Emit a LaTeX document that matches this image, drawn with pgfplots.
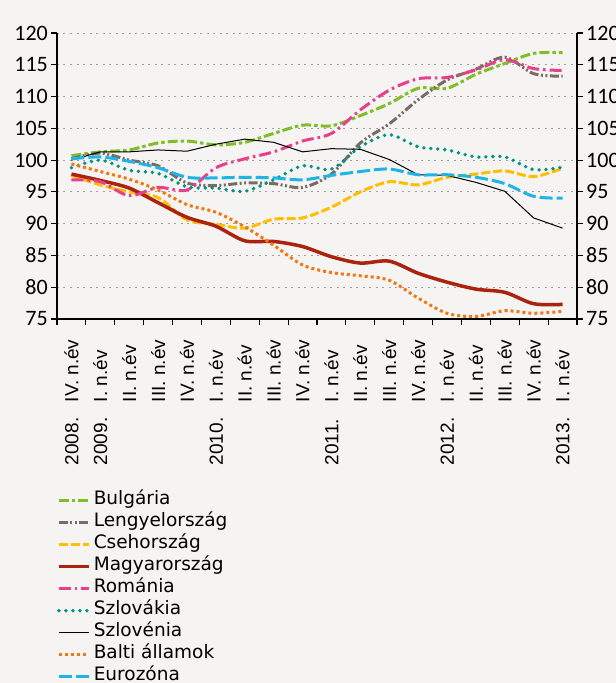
\documentclass[border=0pt]{standalone}
\usepackage{fontspec}
\setmainfont{DejaVu Sans}
\newfontfamily\carlito{Carlito}
\newfontfamily\libsans{Liberation Sans}
\usepackage{pgfplots}
\usepackage{pgfplotstable}
\pgfplotsset{compat=1.18}
\definecolor{bgc}{RGB}{245,244,242}
\definecolor{bgreen}{RGB}{128,190,40}
\definecolor{lgrey}{RGB}{120,108,100}
\definecolor{cyellow}{RGB}{255,190,0}
\definecolor{hred}{RGB}{170,35,15}
\definecolor{rpink}{RGB}{232,62,140}
\definecolor{steal}{RGB}{0,146,130}
\definecolor{borange}{RGB}{240,120,20}
\definecolor{ecyan}{RGB}{30,180,230}
\definecolor{gridc}{RGB}{160,160,160}
\newcommand{\xl}[2]{\makebox[132pt][l]{\makebox[63pt][l]{#1}#2}}
\pgfplotstableread{
x bg pl cz hu ro sk si bl ez
0 100.7 100.2 97.6 97.8 96.9 98.8 100.0 99.4 100.2
1 101.3 101.1 96.1 96.8 96.6 100.0 101.3 98.2 100.5
2 101.6 100.0 95.0 95.6 94.4 98.4 101.3 97.0 99.8
3 102.7 99.1 94.1 93.3 95.7 97.9 101.6 95.3 98.8
4 103.0 96.4 90.6 91.0 95.3 95.8 101.4 93.0 97.3
5 102.4 96.0 89.9 89.6 98.8 95.6 102.5 91.8 97.2
6 102.8 96.4 89.3 87.3 100.2 95.1 103.3 89.5 97.3
7 104.2 96.3 90.7 87.2 101.3 96.9 102.8 86.6 97.2
8 105.5 95.7 90.9 86.4 103.0 99.1 101.3 83.5 96.9
9 105.4 97.8 92.6 84.8 104.2 98.6 101.8 82.3 97.6
10 107.0 102.7 95.0 83.8 107.9 102.1 101.7 81.8 98.2
11 108.9 105.7 96.6 84.1 111.0 104.0 100.1 81.1 98.6
12 111.3 109.5 96.1 82.2 112.8 102.1 97.7 78.3 97.7
13 111.3 112.6 97.3 80.8 113.0 101.6 97.6 75.9 97.7
14 113.5 114.3 97.8 79.7 114.2 100.5 96.5 75.4 97.3
15 115.2 116.2 98.3 79.2 115.8 100.5 95.1 76.3 96.3
16 116.8 113.6 97.4 77.4 114.4 98.5 90.9 75.9 94.3
17 116.9 113.2 98.7 77.3 114.1 98.9 89.3 76.2 94.0
}\data
\begin{document}
\begin{tikzpicture}
\useasboundingbox (0,0) rectangle (616pt,683pt);
\fill[bgc] (0,0) rectangle (616pt,683pt);
\begin{axis}[
  at={(57pt,364pt)}, anchor=south west, scale only axis,
  width=520pt, height=286pt,
  xmin=-0.5, xmax=17.5, ymin=75, ymax=120,
  axis x line*=bottom, axis y line*=left,
  axis line style={line width=1.6pt, -},
  ytick={75,80,...,120},
  xtick={0,...,17},
  xticklabels={{\xl{2008.}{IV. n.év}},{\xl{2009.}{I. n.év}},{\xl{}{II. n.év}},{\xl{}{III. n.év}},{\xl{}{IV. n.év}},
    {\xl{2010.}{I. n.év}},{\xl{}{II. n.év}},{\xl{}{III. n.év}},{\xl{}{IV. n.év}},
    {\xl{2011.}{I. n.év}},{\xl{}{II. n.év}},{\xl{}{III. n.év}},{\xl{}{IV. n.év}},
    {\xl{2012.}{I. n.év}},{\xl{}{II. n.év}},{\xl{}{III. n.év}},{\xl{}{IV. n.év}},
    {\xl{2013.}{I. n.év}}},
  minor xtick={-0.5,0.5,...,17.5},
  tick align=outside,
  major tick length=6pt, minor tick length=6pt,
  every major x tick/.append style={draw=none},
  tick style={black, line width=1.2pt},
  ymajorgrids,
  grid style={gridc, line width=1pt, dash pattern=on 2pt off 4.5pt},
  /pgf/number format/assume math mode=true,
  yticklabel style={font=\carlito\fontsize{22}{22}\selectfont, inner sep=0pt, xshift=-3pt},
  xticklabel style={font=\libsans\fontsize{19}{20}\selectfont, rotate=90, anchor=east, inner sep=0pt},
  xticklabel shift=8pt,
  legend style={at={(0,-0.597)}, anchor=north west, draw=none, fill=none,
    inner sep=0pt, outer sep=0pt, font=\fontsize{18.5}{22}\selectfont,
    row sep=0pt, column sep=3pt,
    nodes={inner sep=0pt, text height=15pt, text depth=7pt}},
  legend cell align=left,
  legend image code/.code={\draw[#1] (0pt,0pt) -- (30pt,0pt);},
]
\addplot[bgreen, line width=3pt, smooth, dash pattern=on 10pt off 3pt on 3.5pt off 3pt] table[x=x,y=bg]{\data};
\addlegendentry{Bulgária}
\addplot[lgrey, line width=3pt, smooth, dash pattern=on 9pt off 2.5pt on 2pt off 2.5pt on 2pt off 2.5pt] table[x=x,y=pl]{\data};
\addlegendentry{Lengyelország}
\addplot[cyellow, line width=3pt, smooth, dash pattern=on 9pt off 3pt] table[x=x,y=cz]{\data};
\addlegendentry{Csehország}
\addplot[hred, line width=3.5pt, smooth] table[x=x,y=hu]{\data};
\addlegendentry{Magyarország}
\addplot[rpink, line width=3pt, smooth, dash pattern=on 12pt off 4pt on 2.5pt off 4pt] table[x=x,y=ro]{\data};
\addlegendentry{Románia}
\addplot[steal, line width=3.8pt, smooth, line cap=round, dash pattern=on 0pt off 7pt] table[x=x,y=sk]{\data};
\addlegendentry{Szlovákia}
\addplot[black, line width=1pt] table[x=x,y=si]{\data};
\addlegendentry{Szlovénia}
\addplot[borange, line width=3pt, smooth, dash pattern=on 3pt off 3pt] table[x=x,y=bl]{\data};
\addlegendentry{Balti államok}
\addplot[ecyan, line width=3pt, smooth, dash pattern=on 13pt off 4pt] table[x=x,y=ez]{\data};
\addlegendentry{Eurozóna}
\node[font=\carlito\fontsize{22}{22}\selectfont] at (axis description cs:0.0115,1.052) {\%};
\node[font=\carlito\fontsize{22}{22}\selectfont] at (axis description cs:0.99,1.052) {\%};
\end{axis}
\begin{axis}[
  at={(57pt,364pt)}, anchor=south west, scale only axis,
  width=520pt, height=286pt,
  xmin=-0.5, xmax=17.5, ymin=75, ymax=120,
  axis y line*=right, axis x line=none,
  axis line style={line width=1.6pt, -},
  ytick={75,80,...,120},
  tick align=outside, major tick length=6pt,
  tick style={black, line width=1.2pt},
  /pgf/number format/assume math mode=true,
  yticklabel style={font=\carlito\fontsize{22}{22}\selectfont, inner sep=0pt, xshift=3pt},
]
\addplot[draw=none, forget plot] coordinates {(0,100)};
\end{axis}
\end{tikzpicture}
\end{document}
